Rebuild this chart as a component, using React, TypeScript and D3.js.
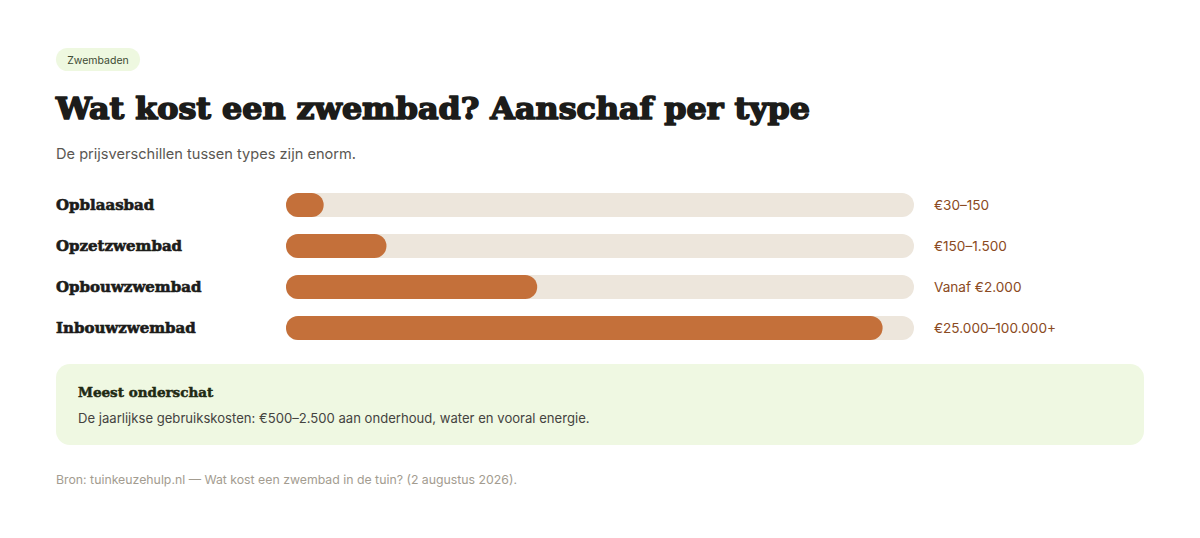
import React from "react";
import * as d3 from "d3";

const categories = ["Opblaasbad", "Opzetzwembad", "Opbouwzwembad", "Inbouwzwembad"];
const values = [6, 16, 40, 95];
const valueLabels = ["€30–150", "€150–1.500", "Vanaf €2.000", "€25.000–100.000+"];
const tag = "Zwembaden";
const title = "Wat kost een zwembad? Aanschaf per type";
const subtitle = "De prijsverschillen tussen types zijn enorm.";
const calloutTitle = "Meest onderschat";
const calloutText = "De jaarlijkse gebruikskosten: €500–2.500 aan onderhoud, water en vooral energie.";
const source = "Bron: tuinkeuzehulp.nl — Wat kost een zwembad in de tuin? (2 augustus 2026).";

const W = 1200, H = 538;
const serif = "'DejaVu Serif', 'Liberation Serif', serif";
const sans = "Inter, 'Noto Sans', sans-serif";

export default function App() {
  const x = d3.scaleLinear().domain([0, 100]).range([286, 914]);
  const bh = 24;
  return (
    <svg width={W} height={H} style={{ position: "absolute", left: 0, top: 0, background: "#fff" }}>
      <rect x={56} y={48} width={84} height={23} rx={11.5} fill="#eef8e0" />
      <text x={98} y={63.5} textAnchor="middle" fontFamily={sans} fontSize={10.5} fill="#3d4a33">{tag}</text>
      <text x={56} y={119} fontFamily={serif} fontWeight={900} fontSize={30} fill="#1c1c1a" stroke="#1c1c1a" strokeWidth={1.6} strokeLinejoin="round" textLength={754} lengthAdjust="spacingAndGlyphs">{title}</text>
      <text x={56} y={159} fontFamily={sans} fontSize={14.6} fill="#5a5752">{subtitle}</text>
      {categories.map((c, i) => {
        const cy = 205 + i * 41;
        return (
          <g key={c}>
            <text x={56} y={cy + 5} fontFamily={serif} fontWeight={700} fontSize={15} fill="#1c1c1a" stroke="#1c1c1a" strokeWidth={0.6}>{c}</text>
            <rect x={x(0)} y={cy - bh / 2} width={x(100) - x(0)} height={bh} rx={bh / 2} fill="#ede6dc" />
            <rect x={x(0)} y={cy - bh / 2} width={x(values[i]) - x(0)} height={bh} rx={bh / 2} fill="#c4703a" />
            <text x={934} y={cy + 4.5} fontFamily={sans} fontSize={13.6} fill="#8a4a22">{valueLabels[i]}</text>
          </g>
        );
      })}
      <rect x={56} y={364} width={1088} height={81} rx={14} fill="#eff8e2" />
      <text x={78} y={397} fontFamily={serif} fontWeight={700} fontSize={13.5} fill="#1f2a14" stroke="#1f2a14" strokeWidth={0.5}>{calloutTitle}</text>
      <text x={78} y={423} fontFamily={sans} fontSize={13.1} fill="#44433f">{calloutText}</text>
      <text x={56} y={484} fontFamily={sans} fontSize={12.3} fill="#a39c90">{source}</text>
    </svg>
  );
}
